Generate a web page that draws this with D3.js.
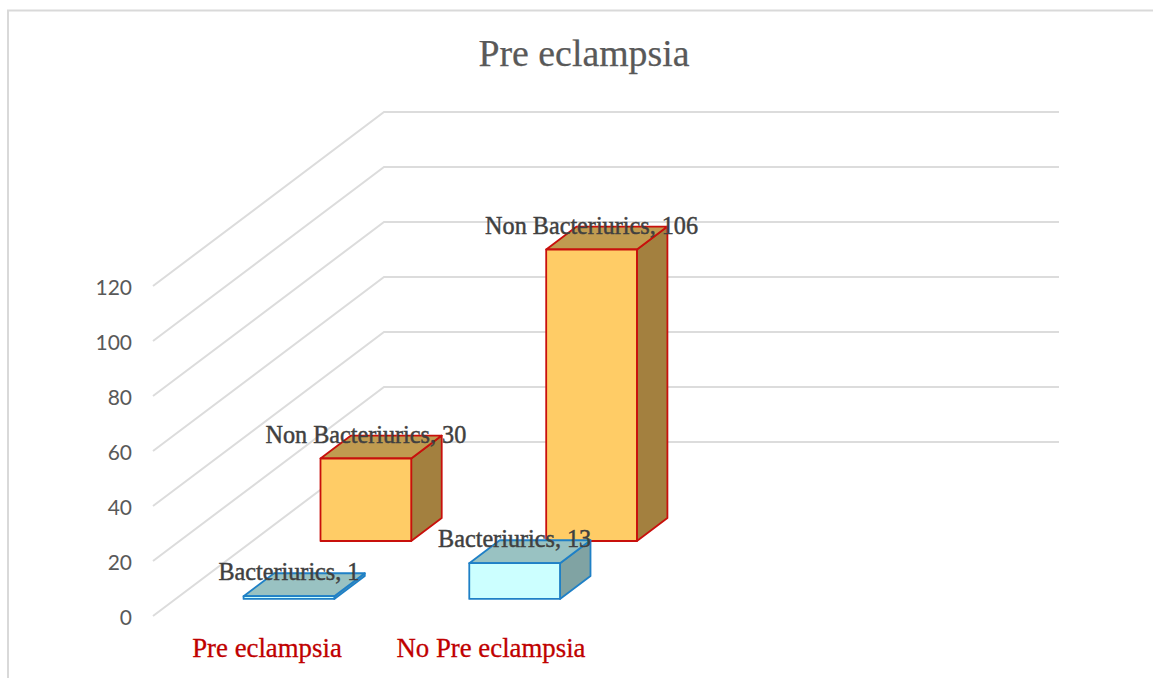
<!DOCTYPE html>
<html>
<head>
<meta charset="utf-8">
<style>
  html, body { margin: 0; padding: 0; background: #fff; }
  svg { display: block; }
</style>
<script src="https://cdn.jsdelivr.net/npm/d3@7/dist/d3.min.js"></script>
</head>
<body>
<svg id="chart" width="1153" height="678"></svg>
<script>
// Chart content
const chartTitle = "Pre eclampsia";
const categories = ["Pre eclampsia", "No Pre eclampsia", ""];
const seriesNames = ["Bacteriurics", "Non Bacteriurics"];
const bacteriurics = [1, 13];
const nonBacteriurics = [30, 106];
const yTicks = [0, 20, 40, 60, 80, 100, 120];

const W = 1153, H = 678;
const svg = d3.select("#chart").attr("viewBox", [0, 0, W, H]);

// Oblique projection: moving through the depth axis shifts a point right and up
const floorLeft = 153, floorRight = 828;
const depthDx = 231, depthDy = 174;
const y = d3.scaleLinear().domain([0, 120]).range([616, 286]);
const x = d3.scaleBand().domain(categories).range([floorLeft, floorRight + 3])
  .paddingInner(0.598).paddingOuter(0.301);
const project = (px, depth, value) => [px + depth * depthDx, y(value) - depth * depthDy];

// Each series occupies one slab along the depth axis
const rows = [
  { name: seriesNames[0], values: bacteriurics, near: 0.098, far: 0.23,
    front: "#ccffff", top: "#99c2c2", side: "#80a3a3", stroke: "#1f80c6" },
  { name: seriesNames[1], values: nonBacteriurics, near: 0.431, far: 0.563,
    front: "#ffcc66", top: "#c09b50", side: "#a3803f", stroke: "#c8100c" }
];

// Outer frame, open to the right and bottom edges
svg.append("path")
  .attr("d", d3.line()([[8, H], [8, 10.5], [W, 10.5]]))
  .attr("fill", "none").attr("stroke", "#d9d9d9").attr("stroke-width", 2);

// Title
svg.append("text")
  .attr("x", 584).attr("y", 66).attr("text-anchor", "middle")
  .attr("font-family", "'Liberation Serif', serif").attr("font-size", 37.8)
  .attr("fill", "#595959").attr("stroke", "#595959").attr("stroke-width", 0.25)
  .text(chartTitle);

// Gridlines run along the side wall, then across the back wall
svg.append("g").selectAll("path").data(yTicks).join("path")
  .attr("d", v => d3.line()([
    project(floorLeft, 0, v),
    project(floorLeft, 1, v),
    project(floorRight, 1, v)
  ]))
  .attr("fill", "none").attr("stroke", "#dcdcdc").attr("stroke-width", 2);

// Value axis labels
const axis = d3.axisLeft(y).tickValues(yTicks).tickSize(0).tickPadding(21);
const axisG = svg.append("g").attr("transform", `translate(${floorLeft},1.5)`).call(axis);
axisG.select(".domain").remove();
axisG.selectAll("text")
  .attr("font-family", "Lato, sans-serif").attr("font-size", 21).attr("fill", "#595959");

// Bars are painted back to front so nearer slabs overlap farther ones
const bars = svg.append("g");
[...rows].reverse().forEach(row => {
  row.values.forEach((v, i) => {
    const x0 = x(categories[i]), x1 = x0 + x.bandwidth();
    const face = pts => d3.line()(pts) + "Z";
    const g = bars.append("g")
      .attr("stroke", row.stroke).attr("stroke-width", 1.8).attr("stroke-linejoin", "round");
    g.append("path").attr("fill", row.side).attr("d", face([
      project(x1, row.near, 0), project(x1, row.far, 0),
      project(x1, row.far, v), project(x1, row.near, v)
    ]));
    g.append("path").attr("fill", row.top).attr("d", face([
      project(x0, row.near, v), project(x1, row.near, v),
      project(x1, row.far, v), project(x0, row.far, v)
    ]));
    g.append("path").attr("fill", row.front).attr("d", face([
      project(x0, row.near, 0), project(x1, row.near, 0),
      project(x1, row.near, v), project(x0, row.near, v)
    ]));
  });
});

// Data labels sit above each bar's front face
const labels = svg.append("g");
rows.forEach(row => {
  row.values.forEach((v, i) => {
    const [lx, ly] = project(x(categories[i]) + x.bandwidth() / 2, row.near, v);
    labels.append("text")
      .attr("x", lx).attr("y", ly - 16).attr("text-anchor", "middle")
      .attr("font-family", "'Liberation Serif', serif").attr("font-size", 24.2)
      .attr("fill", "#404040").attr("stroke", "#404040").attr("stroke-width", 0.45)
      .text(`${row.name}, ${v}`);
  });
});

// Category labels
svg.append("g").selectAll("text").data(categories.filter(c => c)).join("text")
  .attr("x", (c, i) => [267, 491][i]).attr("y", 657).attr("text-anchor", "middle")
  .attr("font-family", "'Liberation Serif', serif").attr("font-size", 26.8)
  .attr("fill", "#c00000").attr("stroke", "#c00000").attr("stroke-width", 0.3)
  .text(c => c);
</script>
</body>
</html>
